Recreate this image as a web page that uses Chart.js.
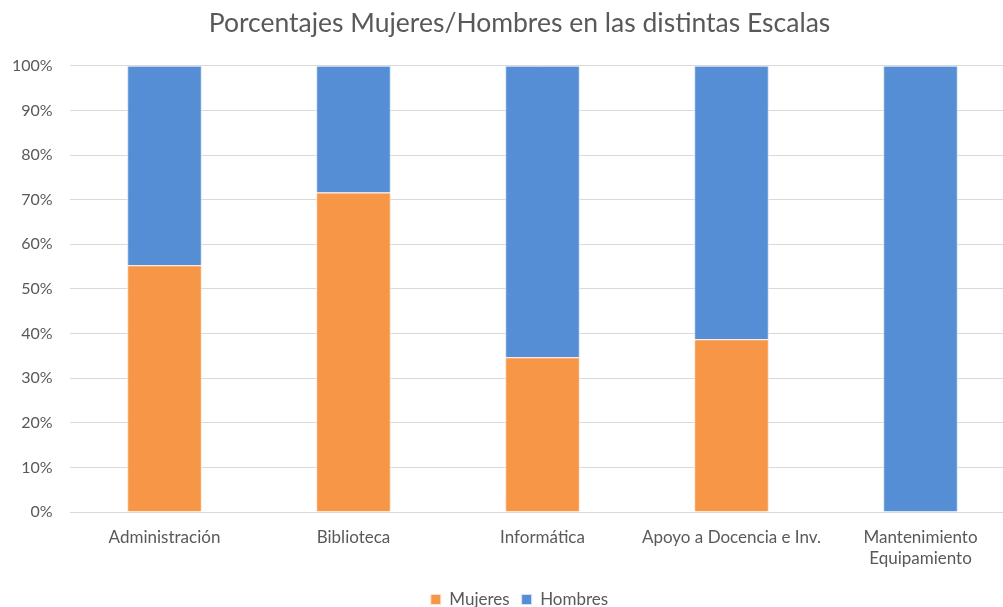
<!DOCTYPE html>
<html>
<head>
<meta charset="utf-8">
<script src="https://cdn.jsdelivr.net/npm/chart.js@4/dist/chart.umd.min.js"></script>
<style>
  html, body { margin: 0; padding: 0; background: #fff; overflow: hidden; }
  #wrap { width: 1040px; height: 618px; position: relative; }
</style>
</head>
<body>
<div id="wrap"><canvas id="myChart"></canvas></div>
<script>
var categories = ["Administración", "Biblioteca", "Informática", "Apoyo a Docencia e Inv.", ["Mantenimiento", "Equipamiento"]];
var mujeres = [55.3, 71.6, 34.7, 38.7, 0];
var hombres = [44.7, 28.4, 65.3, 61.3, 100];
var yTicks = [0, 10, 20, 30, 40, 50, 60, 70, 80, 90, 100];

var fontFamily = "Lato, 'Open Sans', sans-serif";
var grey = '#595959';

var ctx = document.getElementById("myChart").getContext('2d');

var myChart = new Chart(ctx, {
    type: 'bar',
    data: {
        labels: categories,
        datasets: [{
            label: 'Mujeres',
            data: mujeres,
            backgroundColor: '#F79646',
            borderColor: '#FDE3CF', // thin light edge like the original
            borderWidth: 1,
            barPercentage: 0.395,
            categoryPercentage: 1
        }, {
            label: 'Hombres',
            data: hombres,
            backgroundColor: '#558ED5',
            borderColor: '#D5E2F5',
            borderWidth: 1,
            barPercentage: 0.395,
            categoryPercentage: 1
        }]
    },
    options: {
        responsive: true,
        maintainAspectRatio: false,
        animation: false,
        // plot area is wider than the window: the original picture is cropped on the right
        layout: { padding: { left: 24, right: 25, top: 6, bottom: 0 } },
        plugins: {
            title: {
                display: true,
                text: 'Porcentajes Mujeres/Hombres en las distintas Escalas',
                color: grey,
                font: { family: fontFamily, size: 26.5, weight: 'normal' },
                padding: { top: 2, bottom: 26 }
            },
            legend: {
                position: 'bottom',
                labels: {
                    color: grey,
                    font: { family: fontFamily, size: 17 },
                    boxWidth: 10,
                    boxHeight: 10,
                    padding: 12
                }
            },
            tooltip: { enabled: false }
        },
        scales: {
            x: {
                stacked: true,
                afterFit: function (axis) { axis.height = 67; },
                grid: { display: false, drawTicks: false },
                border: { color: '#D9D9D9', width: 1 },
                ticks: {
                    color: grey,
                    font: { family: fontFamily, size: 17, lineHeight: 1.25 },
                    maxRotation: 0,
                    autoSkip: false,
                    padding: 15
                }
            },
            y: {
                stacked: true,
                min: 0,
                max: 100,
                afterBuildTicks: function (axis) {
                    axis.ticks = yTicks.map(function (v) { return { value: v }; });
                },
                afterFit: function (axis) { axis.width = 46; },
                grid: { color: '#D9D9D9', drawTicks: false },
                border: { display: false },
                ticks: {
                    color: grey,
                    font: { family: fontFamily, size: 16 },
                    // mirrored so the labels are not clipped to the narrow axis box
                    mirror: true,
                    crossAlign: 'far',
                    padding: -58,
                    callback: function (v) { return v + '%'; }
                }
            }
        }
    }
});
</script>
</body>
</html>
